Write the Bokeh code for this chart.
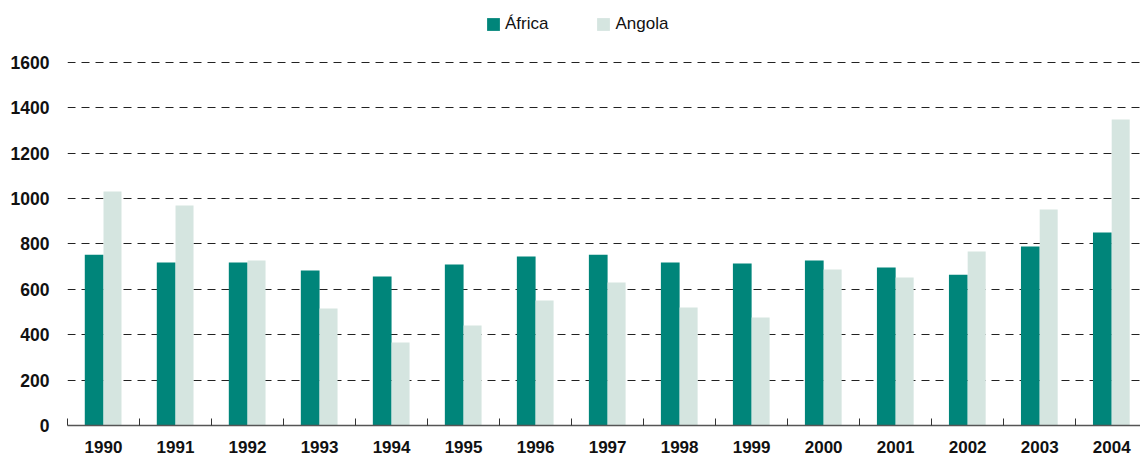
import numpy as np
from bokeh.plotting import figure
from bokeh.models import ColumnDataSource, Range1d, FixedTicker, Legend, LegendItem
from bokeh.transform import dodge
from bokeh.embed import file_html
from bokeh.resources import INLINE

years = ["1990", "1991", "1992", "1993", "1994", "1995", "1996", "1997",
         "1998", "1999", "2000", "2001", "2002", "2003", "2004"]
africa = [753, 718, 718, 683, 657, 710, 745, 753, 718, 714, 727, 696, 665, 789, 851]
angola = [1031, 970, 727, 516, 366, 441, 551, 630, 520, 476, 688, 652, 767, 952, 1349]
y_ticks = [0, 200, 400, 600, 800, 1000, 1200, 1400, 1600]

FONT = "Liberation Sans"
TEAL = "#00857A"
LIGHT = "#D5E5E0"

centers = [i + 0.5 for i in range(len(years))]
src = ColumnDataSource(dict(x=centers, africa=africa, angola=angola, year=years))

p = figure(width=1140, height=462, output_backend="svg", toolbar_location=None,
           x_range=Range1d(0, 14.9), y_range=Range1d(0, 1838),
           min_border_left=67, min_border_right=0, min_border_top=8, min_border_bottom=37)
p.outline_line_color = None
p.background_fill_color = "white"
p.border_fill_color = "white"

r1 = p.vbar(x=dodge("x", -0.13, range=p.x_range), top="africa", width=0.26, bottom=0,
            source=src, fill_color=TEAL, line_color=None)
r2 = p.vbar(x=dodge("x", 0.125, range=p.x_range), top="angola", width=0.25, bottom=0,
            source=src, fill_color=LIGHT, line_color=None)

# x axis
xt = FixedTicker(ticks=centers, minor_ticks=list(range(len(years) + 1)))
p.xaxis.ticker = xt
p.xaxis.major_label_overrides = {c: y for c, y in zip(centers, years)}
p.xaxis.major_tick_line_color = None
p.xaxis.major_tick_in = 0
p.xaxis.major_tick_out = 0
p.xaxis.minor_tick_in = 7
p.xaxis.minor_tick_out = 0
p.xaxis.minor_tick_line_color = "#333333"
p.xaxis.axis_line_color = "#555555"
p.xaxis.axis_line_width = 1.5
p.xaxis.major_label_text_font = FONT
p.xaxis.major_label_text_font_style = "bold"
p.xaxis.major_label_text_font_size = "17px"
p.xaxis.major_label_text_color = "#111111"
p.xaxis.major_label_standoff = 15
p.xgrid.grid_line_color = None

# y axis
p.yaxis.ticker = FixedTicker(ticks=y_ticks)
p.yaxis.axis_line_color = None
p.yaxis.major_tick_line_color = None
p.yaxis.minor_tick_line_color = None
p.yaxis.major_tick_out = 0
p.yaxis.major_tick_in = 0
p.yaxis.major_label_text_font = FONT
p.yaxis.major_label_text_font_style = "bold"
p.yaxis.major_label_text_font_size = "17.5px"
p.yaxis.major_label_text_color = "#111111"
p.yaxis.major_label_standoff = 18
p.ygrid.ticker = FixedTicker(ticks=y_ticks[1:])
p.ygrid.grid_line_color = "#222222"
p.ygrid.grid_line_dash = "8 6"
p.ygrid.grid_line_width = 1

legend = Legend(items=[LegendItem(label="África", renderers=[r1]),
                       LegendItem(label="Angola", renderers=[r2])],
                orientation="horizontal", location=(418, 390),
                padding=0, margin=0, spacing=47, glyph_width=16, glyph_height=16,
                label_standoff=4, label_height=22,
                label_text_font=FONT, label_text_font_size="17px",
                label_text_color="#111111",
                border_line_color=None, background_fill_alpha=0)
p.add_layout(legend)

open("out.html", "w").write(file_html(p, INLINE))
